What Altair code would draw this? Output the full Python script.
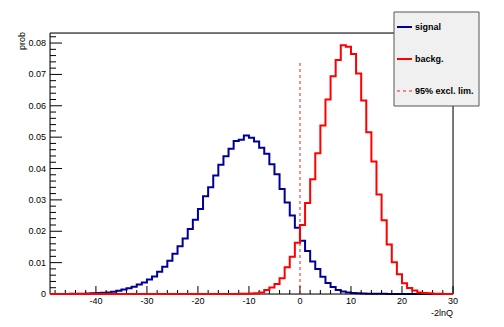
import altair as alt
import pandas as pd

# ---------------- data ----------------
bin_left = list(range(-49, 30))  # 79 bins of width 1, last bin ends at 30
x_end = 30

signal = [
    0.00002, 0.00002, 0.00003, 0.00004, 0.00005, 0.00007, 0.0001, 0.00014,   # -49..-42
    0.0002, 0.0003, 0.0004, 0.0005, 0.0007, 0.001, 0.0014, 0.0018,            # -41..-34
    0.0023, 0.003, 0.0037, 0.0046, 0.0056, 0.0071, 0.0087, 0.0106,            # -33..-26
    0.0128, 0.0152, 0.0177, 0.0207, 0.0237, 0.0271, 0.0312, 0.034,            # -25..-18
    0.0378, 0.0412, 0.0439, 0.0463, 0.0488, 0.0492, 0.0505, 0.0498,           # -17..-10
    0.0486, 0.0466, 0.0447, 0.0414, 0.0382, 0.0335, 0.0292, 0.025,            # -9..-2
    0.0211, 0.017, 0.0137, 0.0104, 0.008, 0.0055, 0.0035, 0.0022,             # -1..6
    0.0013, 0.0008, 0.0005, 0.0003, 0.0002, 0.00015, 0.0001, 0.00008,         # 7..14
    0.00006, 0.00005, 0.00004, 0.00003, 0.00003, 0.00002, 0.00002, 0.00002,   # 15..22
    0.00001, 0.00001, 0.00001, 0.00001, 0.00001, 0.00001, 0.00001,            # 23..29
]

backg = [
    0, 0, 0, 0, 0, 0, 0, 0,                                                   # -49..-42
    0, 0, 0, 0, 0, 0, 0, 0,                                                   # -41..-34
    0, 0, 0, 0, 0, 0, 0, 0,                                                   # -33..-26
    0, 0, 0, 0, 0, 0, 0, 0,                                                   # -25..-18
    0, 0, 0, 0, 0.00003, 0.00005, 0.0001, 0.00015,                            # -17..-10
    0.0002, 0.0005, 0.0013, 0.0021, 0.0032, 0.005, 0.0085, 0.0119,            # -9..-2
    0.0163, 0.022, 0.029, 0.0366, 0.0449, 0.0537, 0.062, 0.0694,              # -1..6
    0.0746, 0.0793, 0.0788, 0.0765, 0.0703, 0.0617, 0.0516, 0.0422,           # 7..14
    0.0317, 0.0235, 0.0158, 0.0101, 0.0063, 0.0034, 0.0019, 0.0011,           # 15..22
    0.0005, 0.0003, 0.0002, 0.0001, 0.00005, 0.00003, 0.00002,                # 23..29
]

excl_lim_x = 0.0
excl_lim_top = 0.074

x_domain = [-49, 30]
y_domain = [0, 0.0832]
x_major = [-40, -30, -20, -10, 0, 10, 20, 30]
x_major_labels = ["-40", "-30", "-20", "-10", "0", "10", "20", "30"]
x_minor = [v for v in range(-48, 30, 2) if v % 10 != 0]
y_major = [0.0, 0.01, 0.02, 0.03, 0.04, 0.05, 0.06, 0.07, 0.08]
y_major_labels = ["0", "0.01", "0.02", "0.03", "0.04", "0.05", "0.06", "0.07", "0.08"]
y_minor = [round(0.002 * i, 3) for i in range(1, 42) if i % 5 != 0]

legend_labels = ["signal", "backg.", "95% excl. lim."]
x_title = "-2lnQ"
y_title = "prob"

# ---------------- styling ----------------
W, H = 403, 261
FONT = "'Liberation Sans', Arial, Helvetica, sans-serif"
FS = 9
SIG_COLOR = "#000099"
BKG_COLOR = "#ff0000"

xscale = alt.Scale(domain=x_domain, nice=False, zero=False)
yscale = alt.Scale(domain=y_domain, nice=False, zero=False)


def hist_df(vals):
    return pd.DataFrame({"x": bin_left + [x_end], "y": vals + [vals[-1]]})


sig = alt.Chart(hist_df(signal)).mark_line(
    interpolate="step-after", color=SIG_COLOR, strokeWidth=2
).encode(
    x=alt.X("x:Q", scale=xscale, axis=None),
    y=alt.Y("y:Q", scale=yscale, axis=None),
)

bkg = alt.Chart(hist_df(backg)).mark_line(
    interpolate="step-after", color=BKG_COLOR, strokeWidth=2
).encode(
    x=alt.X("x:Q", scale=xscale, axis=None),
    y=alt.Y("y:Q", scale=yscale, axis=None),
)

lim = alt.Chart(pd.DataFrame({"x": [excl_lim_x], "y": [0.0], "y2": [excl_lim_top]})).mark_rule(
    color=BKG_COLOR, strokeDash=[3, 3], strokeWidth=1.5, opacity=0.6
).encode(
    x=alt.X("x:Q", scale=xscale, axis=None),
    y=alt.Y("y:Q", scale=yscale, axis=None),
    y2="y2:Q",
)

frame = alt.Chart(pd.DataFrame({"a": [0]})).mark_rect(
    fillOpacity=0, stroke="black", strokeWidth=1
).encode(x=alt.value(0), x2=alt.value(W), y=alt.value(0), y2=alt.value(H))


def yticks(vals, length):
    return alt.Chart(pd.DataFrame({"v": vals})).mark_rule(color="black", strokeWidth=1).encode(
        y=alt.Y("v:Q", scale=yscale, axis=None), x=alt.value(0), x2=alt.value(length))


def xticks(vals, length):
    return alt.Chart(pd.DataFrame({"v": vals})).mark_rule(color="black", strokeWidth=1).encode(
        x=alt.X("v:Q", scale=xscale, axis=None), y=alt.value(H), y2=alt.value(H - length))


ylabels = alt.Chart(pd.DataFrame({"v": y_major, "t": y_major_labels})).mark_text(
    align="right", baseline="middle", font=FONT, fontSize=FS, color="black"
).encode(y=alt.Y("v:Q", scale=yscale, axis=None), x=alt.value(-4), text="t:N")

xlabels = alt.Chart(pd.DataFrame({"v": x_major, "t": x_major_labels})).mark_text(
    align="center", baseline="top", font=FONT, fontSize=FS, color="black"
).encode(x=alt.X("v:Q", scale=xscale, axis=None), y=alt.value(H + 3), text="t:N")

xt = alt.Chart(pd.DataFrame({"t": [x_title]})).mark_text(
    align="right", baseline="middle", font=FONT, fontSize=FS, color="black"
).encode(x=alt.value(W), y=alt.value(H + 19), text="t:N")

yt = alt.Chart(pd.DataFrame({"t": [y_title]})).mark_text(
    align="right", baseline="alphabetic", angle=270, font=FONT, fontSize=FS, color="black"
).encode(x=alt.value(-25), y=alt.value(-1), text="t:N")

# legend (drawn by hand, ROOT style)
LX0, LX1, LY0, LY1 = 344, 429, -21, 73
leg_box = alt.Chart(pd.DataFrame({"a": [0]})).mark_rect(
    fill="#f0f0f0", stroke="#555555", strokeWidth=1
).encode(x=alt.value(LX0), x2=alt.value(LX1), y=alt.value(LY0), y2=alt.value(LY1))

leg_layers = [leg_box]
entry_y = [-6, 26, 58]
entry_style = [
    dict(color=SIG_COLOR, strokeWidth=2),
    dict(color=BKG_COLOR, strokeWidth=2),
    dict(color=BKG_COLOR, strokeWidth=1.5, strokeDash=[3, 3], opacity=0.6),
]
for lab, yy, st in zip(legend_labels, entry_y, entry_style):
    d = pd.DataFrame({"label": [lab]})
    leg_layers.append(alt.Chart(d).mark_rule(**st).encode(
        x=alt.value(LX0 + 3), x2=alt.value(LX0 + 18), y=alt.value(yy)))
    leg_layers.append(alt.Chart(d).mark_text(
        align="left", baseline="middle", font=FONT, fontSize=FS, fontWeight="bold", color="black"
    ).encode(x=alt.value(LX0 + 21), y=alt.value(yy), text="label:N"))

chart = alt.layer(
    sig, frame, yticks(y_major, 12), yticks(y_minor, 6), xticks(x_major, 8), xticks(x_minor, 4),
    bkg, lim, ylabels, xlabels, xt, yt, *leg_layers
).properties(
    width=W, height=H,
    autosize=alt.AutoSizeParams(type="none"),
    padding={"left": 42, "top": 25, "right": 40, "bottom": 30},
).configure_view(stroke=None).configure(background="white")

chart.save("out.html", embed_options={"renderer": "svg", "actions": False})
